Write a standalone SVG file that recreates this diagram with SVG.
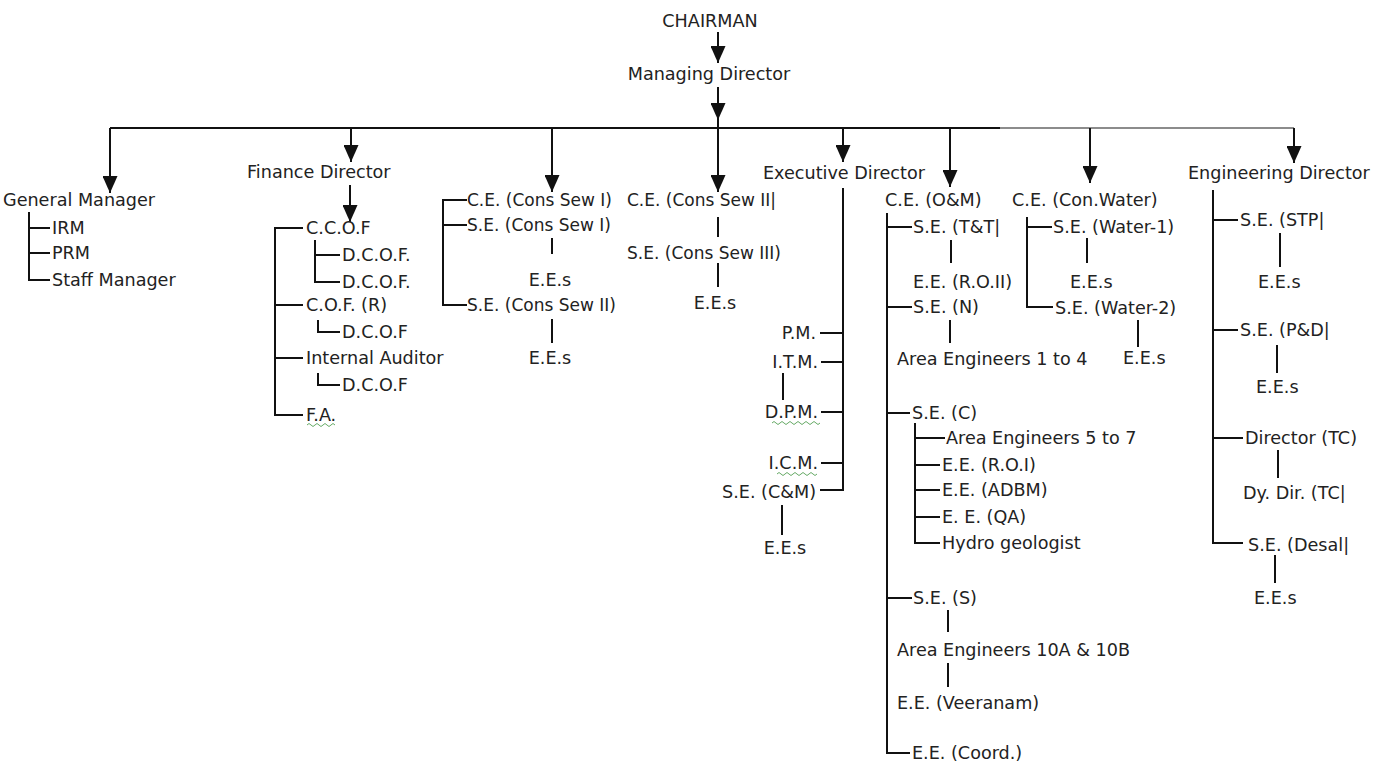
<svg xmlns="http://www.w3.org/2000/svg" width="1378" height="764" viewBox="0 0 1378 764">
<defs>
<style>
.t{font-family:"DejaVu Sans","Liberation Sans",sans-serif;font-size:17.6px;fill:#222}
.n{font-size:17px}
.m{text-anchor:middle}
.e{text-anchor:end}
.c{fill:none;stroke:#111;stroke-width:2}
.c2{fill:none;stroke:#666;stroke-width:1.5}
.a{fill:none;stroke:#111;stroke-width:2;marker-end:url(#arr)}
.sq{fill:none;stroke:#6a6;stroke-width:1}
</style>
<marker id="arr" markerUnits="userSpaceOnUse" markerWidth="17" markerHeight="15" refX="17" refY="7.5" orient="auto" viewBox="0 0 17 15">
<path d="M0,0 L17,7.5 L0,15 Z" fill="#111"/>
</marker>
</defs>
<rect width="1378" height="764" fill="#fff"/>

<g id="connectors">
<path class="a" d="M718,32 V63"/>
<path class="a" d="M718,87 V120"/>
<path class="c" d="M718,118 V130"/>
<path class="c" d="M110,128 H1000"/>
<path class="c2" d="M1000,128 H1294"/>
<path class="a" d="M110,128 V193"/>
<path class="a" d="M351,128 V162"/>
<path class="a" d="M552,128 V192"/>
<path class="a" d="M718,128 V192"/>
<path class="a" d="M843,128 V162"/>
<path class="a" d="M950,128 V187"/>
<path class="a" d="M1090,128 V183"/>
<path class="a" d="M1294,128 V163"/>
<path class="c" d="M29,212 V280 H50 M29,228 H50 M29,253 H50"/>
<path class="a" d="M350,185 V222"/>
<path class="c" d="M303,228 H275 V415 H303 M275,305 H303 M275,358 H303"/>
<path class="c" d="M315,240 V282 H340 M315,255 H340"/>
<path class="c" d="M318,320 V332 H340"/>
<path class="c" d="M318,373 V385 H340"/>
<path class="c" d="M467,200 H443 V305 H467 M443,225 H467"/>
<path class="c" d="M552,238 V254"/>
<path class="c" d="M552,319 V343"/>
<path class="c" d="M718,217 V237"/>
<path class="c" d="M718,263 V287"/>
<path class="c" d="M843,188 V490 H820 M820,333 H843 M821,362 H843 M821,412 H843 M821,463 H843"/>
<path class="c" d="M783,373 V400"/>
<path class="c" d="M782,505 V535"/>
<path class="c" d="M887,213 V753 H910 M887,227 H912 M887,307 H912 M887,413 H910 M887,598 H912"/>
<path class="c" d="M951,240 V263"/>
<path class="c" d="M950,320 V343"/>
<path class="c" d="M915,423 V543 H940 M915,438 H945 M915,465 H940 M915,490 H940 M915,517 H940"/>
<path class="c" d="M948,610 V632"/>
<path class="c" d="M948,663 V687"/>
<path class="c" d="M1027,217 V307 H1053 M1027,227 H1052"/>
<path class="c" d="M1087,238 V263"/>
<path class="c" d="M1138,320 V347"/>
<path class="c" d="M1213,190 V543 H1243 M1213,220 H1238 M1213,330 H1238 M1213,438 H1243"/>
<path class="c" d="M1280,233 V267"/>
<path class="c" d="M1277,345 V373"/>
<path class="c" d="M1278,450 V478"/>
<path class="c" d="M1275,555 V583"/>
<path class="sq" d="M307,425 q2,-3 4,0 t4,0 t4,0 t4,0 t4,0 t4,0 t4,0"/>
<path class="sq" d="M772,423 q2,-3 4,0 t4,0 t4,0 t4,0 t4,0 t4,0 t4,0 t4,0 t4,0 t4,0 t4,0 t4,0"/>
<path class="sq" d="M777,474 q2,-3 4,0 t4,0 t4,0 t4,0 t4,0 t4,0 t4,0 t4,0 t4,0 t4,0"/>
</g>

<g id="chairman"><text class="t m" x="710" y="27">CHAIRMAN</text></g>
<g id="managing-director"><text class="t m" x="709" y="80">Managing Director</text></g>

<g id="general-manager"><text class="t" x="3" y="206">General Manager</text></g>
<g id="irm"><text class="t" x="52" y="234">IRM</text></g>
<g id="prm"><text class="t" x="52" y="259">PRM</text></g>
<g id="staff-manager"><text class="t" x="52" y="286">Staff Manager</text></g>

<g id="finance-director"><text class="t" x="247" y="178">Finance Director</text></g>
<g id="ccof"><text class="t" x="306" y="234">C.C.O.F</text></g>
<g id="dcof1"><text class="t" x="342" y="261">D.C.O.F.</text></g>
<g id="dcof2"><text class="t" x="342" y="288">D.C.O.F.</text></g>
<g id="cof-r"><text class="t" x="306" y="311">C.O.F. (R)</text></g>
<g id="dcof3"><text class="t" x="342" y="338">D.C.O.F</text></g>
<g id="internal-auditor"><text class="t" x="306" y="364">Internal Auditor</text></g>
<g id="dcof4"><text class="t" x="342" y="391">D.C.O.F</text></g>
<g id="fa"><text class="t" x="306" y="421">F.A.</text></g>

<g id="ce-cons-sew-1"><text class="t n" x="467" y="206">C.E. (Cons Sew I)</text></g>
<g id="se-cons-sew-1"><text class="t n" x="467" y="231">S.E. (Cons Sew I)</text></g>
<g id="ees-1"><text class="t m" x="550" y="286">E.E.s</text></g>
<g id="se-cons-sew-2"><text class="t n" x="467" y="311">S.E. (Cons Sew II)</text></g>
<g id="ees-2"><text class="t m" x="550" y="364">E.E.s</text></g>

<g id="ce-cons-sew-2"><text class="t n" x="627" y="206">C.E. (Cons Sew II|</text></g>
<g id="se-cons-sew-3"><text class="t n" x="627" y="259">S.E. (Cons Sew III)</text></g>
<g id="ees-3"><text class="t m" x="715" y="309">E.E.s</text></g>

<g id="executive-director"><text class="t" x="763" y="179">Executive Director</text></g>
<g id="pm"><text class="t e" x="816" y="339">P.M.</text></g>
<g id="itm"><text class="t e" x="818" y="368">I.T.M.</text></g>
<g id="dpm"><text class="t e" x="818" y="418">D.P.M.</text></g>
<g id="icm"><text class="t e" x="818" y="469">I.C.M.</text></g>
<g id="se-cm"><text class="t e" x="816" y="498">S.E. (C&amp;M)</text></g>
<g id="ees-4"><text class="t m" x="785" y="554">E.E.s</text></g>

<g id="ce-om"><text class="t" x="885" y="206">C.E. (O&amp;M)</text></g>
<g id="se-tt"><text class="t" x="913" y="233">S.E. (T&amp;T|</text></g>
<g id="ee-ro2"><text class="t" x="913" y="288">E.E. (R.O.II)</text></g>
<g id="se-n"><text class="t" x="913" y="313">S.E. (N)</text></g>
<g id="area-eng-1-4"><text class="t" x="897" y="365">Area Engineers 1 to 4</text></g>
<g id="se-c"><text class="t" x="912" y="419">S.E. (C)</text></g>
<g id="area-eng-5-7"><text class="t" x="946" y="444">Area Engineers 5 to 7</text></g>
<g id="ee-ro1"><text class="t" x="942" y="471">E.E. (R.O.I)</text></g>
<g id="ee-adbm"><text class="t" x="942" y="496">E.E. (ADBM)</text></g>
<g id="ee-qa"><text class="t" x="942" y="523">E. E. (QA)</text></g>
<g id="hydro-geologist"><text class="t" x="942" y="549">Hydro geologist</text></g>
<g id="se-s"><text class="t" x="913" y="604">S.E. (S)</text></g>
<g id="area-eng-10"><text class="t" x="897" y="656">Area Engineers 10A &amp; 10B</text></g>
<g id="ee-veeranam"><text class="t" x="897" y="709">E.E. (Veeranam)</text></g>
<g id="ee-coord"><text class="t" x="912" y="759">E.E. (Coord.)</text></g>

<g id="ce-con-water"><text class="t" x="1012" y="206">C.E. (Con.Water)</text></g>
<g id="se-water-1"><text class="t" x="1053" y="233">S.E. (Water-1)</text></g>
<g id="ees-5"><text class="t" x="1070" y="288">E.E.s</text></g>
<g id="se-water-2"><text class="t" x="1055" y="314">S.E. (Water-2)</text></g>
<g id="ees-6"><text class="t" x="1123" y="364">E.E.s</text></g>

<g id="engineering-director"><text class="t" x="1188" y="179">Engineering Director</text></g>
<g id="se-stp"><text class="t" x="1240" y="226">S.E. (STP|</text></g>
<g id="ees-7"><text class="t" x="1258" y="288">E.E.s</text></g>
<g id="se-pd"><text class="t" x="1240" y="336">S.E. (P&amp;D|</text></g>
<g id="ees-8"><text class="t" x="1256" y="393">E.E.s</text></g>
<g id="director-tc"><text class="t" x="1245" y="444">Director (TC)</text></g>
<g id="dy-dir-tc"><text class="t" x="1243" y="499">Dy. Dir. (TC|</text></g>
<g id="se-desal"><text class="t" x="1248" y="551">S.E. (Desal|</text></g>
<g id="ees-9"><text class="t" x="1254" y="604">E.E.s</text></g>
</svg>
